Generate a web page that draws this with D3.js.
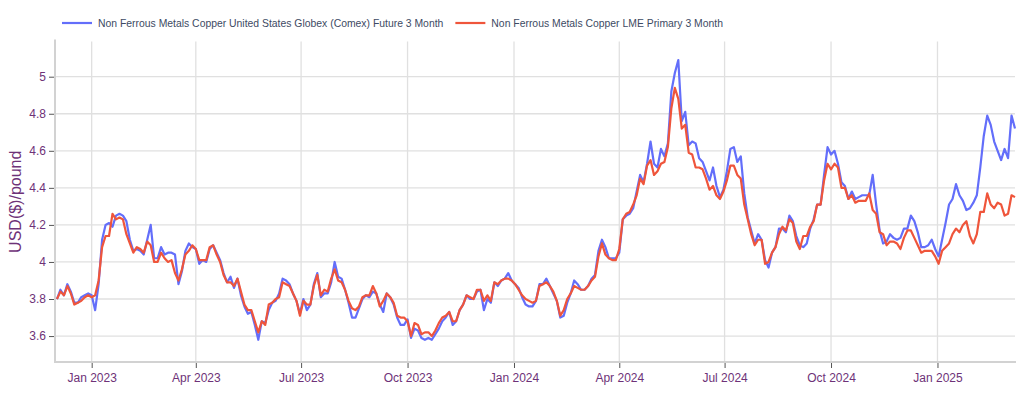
<!DOCTYPE html>
<html>
<head>
<meta charset="utf-8">
<script src="https://cdn.jsdelivr.net/npm/d3@7"></script>
<style>
  body { margin: 0; background: #fff; }
  svg { display: block; font-family: "Liberation Sans", Arial, Helvetica, sans-serif; }
</style>
</head>
<body>
<svg id="chart" width="1024" height="400"></svg>
<script>
// ---------------- DATA ----------------
const seriesNames = [
  "Non Ferrous Metals Copper United States Globex (Comex) Future 3 Month",
  "Non Ferrous Metals Copper LME Primary 3 Month"
];
const startDate = "2022-12-02";   // first observation
const stepDays = 3;               // observation spacing (days)

const comex = [
  3.80,3.85,3.82,3.88,3.84,3.78,3.78,3.81,3.82,3.83,3.82,3.74,3.88,4.12,4.20,4.21,4.19,4.25,4.26,4.25,
  4.22,4.12,4.06,4.07,4.06,4.04,4.12,4.20,4.02,4.02,4.08,4.04,4.05,4.05,4.04,3.88,3.95,4.06,4.10,4.08,
  4.07,3.99,4.01,4.00,4.07,4.09,4.05,4.01,3.94,3.89,3.92,3.86,3.91,3.82,3.76,3.72,3.73,3.66,3.58,3.68,
  3.67,3.74,3.78,3.79,3.83,3.91,3.90,3.88,3.83,3.79,3.72,3.80,3.74,3.77,3.88,3.94,3.81,3.83,3.83,3.89,
  4.00,3.92,3.91,3.85,3.78,3.70,3.70,3.75,3.80,3.82,3.81,3.84,3.83,3.77,3.73,3.83,3.81,3.77,3.70,3.66,
  3.66,3.69,3.59,3.64,3.63,3.59,3.58,3.59,3.58,3.61,3.64,3.68,3.70,3.73,3.66,3.68,3.74,3.77,3.82,3.80,
  3.80,3.84,3.85,3.74,3.80,3.78,3.89,3.87,3.90,3.91,3.94,3.90,3.88,3.86,3.81,3.77,3.76,3.76,3.79,3.88,
  3.88,3.91,3.87,3.83,3.79,3.70,3.71,3.78,3.83,3.90,3.88,3.85,3.85,3.87,3.91,3.93,4.06,4.12,4.08,4.02,
  4.02,4.02,4.05,4.23,4.25,4.26,4.29,4.38,4.47,4.43,4.53,4.65,4.53,4.51,4.61,4.57,4.64,4.92,5.02,5.09,
  4.76,4.81,4.63,4.65,4.64,4.56,4.54,4.49,4.44,4.51,4.41,4.35,4.39,4.49,4.61,4.62,4.54,4.57,4.37,4.24,
  4.17,4.10,4.15,4.12,4.01,3.97,4.05,4.08,4.18,4.18,4.16,4.25,4.22,4.14,4.09,4.08,4.10,4.18,4.23,4.31,
  4.31,4.47,4.62,4.58,4.60,4.53,4.43,4.41,4.34,4.38,4.34,4.35,4.36,4.36,4.36,4.47,4.31,4.17,4.10,4.11,
  4.15,4.13,4.12,4.13,4.18,4.18,4.25,4.22,4.16,4.08,4.08,4.09,4.12,4.07,4.03,4.12,4.21,4.31,4.34,4.42,
  4.36,4.33,4.28,4.29,4.32,4.36,4.51,4.68,4.79,4.74,4.65,4.60,4.55,4.61,4.56,4.79,4.72
];

const lme = [
  3.80,3.84,3.82,3.87,3.83,3.77,3.78,3.79,3.81,3.82,3.81,3.82,3.90,4.08,4.14,4.14,4.26,4.23,4.24,4.23,
  4.15,4.10,4.05,4.08,4.07,4.05,4.11,4.09,4.00,4.00,4.05,4.02,4.00,4.01,3.94,3.90,3.96,4.04,4.06,4.09,
  4.07,4.01,4.01,4.01,4.08,4.09,4.04,4.00,3.93,3.89,3.89,3.87,3.91,3.84,3.77,3.74,3.74,3.68,3.62,3.68,
  3.66,3.77,3.78,3.80,3.81,3.89,3.88,3.87,3.83,3.79,3.71,3.79,3.77,3.77,3.87,3.93,3.82,3.85,3.84,3.91,
  3.96,3.90,3.89,3.85,3.79,3.75,3.74,3.76,3.81,3.82,3.82,3.87,3.83,3.76,3.79,3.83,3.81,3.78,3.71,3.70,
  3.70,3.68,3.60,3.67,3.66,3.61,3.62,3.62,3.60,3.63,3.67,3.70,3.71,3.73,3.68,3.68,3.74,3.77,3.82,3.81,
  3.80,3.85,3.85,3.79,3.82,3.79,3.89,3.88,3.90,3.91,3.91,3.90,3.88,3.85,3.82,3.80,3.79,3.78,3.79,3.87,
  3.88,3.89,3.87,3.84,3.79,3.71,3.74,3.80,3.83,3.87,3.86,3.85,3.85,3.87,3.90,3.92,4.03,4.10,4.04,4.02,
  4.01,4.01,4.07,4.23,4.26,4.27,4.31,4.36,4.45,4.42,4.52,4.55,4.47,4.49,4.53,4.54,4.62,4.83,4.94,4.88,
  4.72,4.74,4.59,4.58,4.51,4.51,4.50,4.45,4.39,4.41,4.36,4.34,4.38,4.44,4.52,4.52,4.47,4.45,4.31,4.23,
  4.15,4.09,4.12,4.12,3.99,4.00,4.05,4.08,4.15,4.19,4.17,4.23,4.21,4.11,4.07,4.14,4.14,4.19,4.22,4.31,
  4.31,4.44,4.53,4.50,4.53,4.51,4.40,4.40,4.34,4.36,4.32,4.33,4.33,4.33,4.37,4.28,4.26,4.16,4.15,4.09,
  4.11,4.11,4.10,4.07,4.13,4.17,4.17,4.13,4.09,4.05,4.06,4.06,4.06,4.03,3.99,4.06,4.08,4.10,4.15,4.18,
  4.16,4.20,4.22,4.14,4.10,4.15,4.27,4.27,4.37,4.31,4.29,4.32,4.31,4.25,4.26,4.36,4.35
];

const yTicks = [3.6, 3.8, 4, 4.2, 4.4, 4.6, 4.8, 5];
const xTickDates = ["2023-01-01","2023-04-01","2023-07-01","2023-10-01","2024-01-01","2024-04-01","2024-07-01","2024-10-01","2025-01-01"];
const xTickLabels = ["Jan 2023","Apr 2023","Jul 2023","Oct 2023","Jan 2024","Apr 2024","Jul 2024","Oct 2024","Jan 2025"];
const yTitle = "USD($)/pound";
const colors = ["#636efa", "#ef553b"];

// ---------------- LAYOUT ----------------
const W = 1024, H = 400;
const plot = { left: 55, right: 1015, top: 41.5, bottom: 362 };
const xRange = [new Date(Date.UTC(2022, 10, 30, 7, 12)), new Date(Date.UTC(2025, 2, 9))];
const yDomain = [3.46, 5.19];

const parse = d3.utcParse("%Y-%m-%d");
const t0 = parse(startDate);
const dates = comex.map((_, i) => d3.utcDay.offset(t0, i * stepDays));

const x = d3.scaleUtc().domain(xRange).range([plot.left, plot.right]);
const y = d3.scaleLinear().domain(yDomain).range([plot.bottom, plot.top]);

const svg = d3.select("#chart");
const labelColor = "#6e3278";
const gridColor = "#e0e0e0";
const font = '"Liberation Sans", Arial, sans-serif';

// gridlines
const grid = svg.append("g");
grid.selectAll("line.h").data(yTicks).join("line")
  .attr("x1", plot.left).attr("x2", plot.right)
  .attr("y1", d => y(d)).attr("y2", d => y(d))
  .attr("stroke", gridColor).attr("stroke-width", 1.3);
const xTicks = xTickDates.map(parse);
grid.selectAll("line.v").data(xTicks).join("line")
  .attr("x1", d => x(d)).attr("x2", d => x(d))
  .attr("y1", plot.top).attr("y2", plot.bottom)
  .attr("stroke", gridColor).attr("stroke-width", 1.3);

// axes
const yAxis = d3.axisLeft(y).tickValues(yTicks).tickSize(6).tickPadding(3)
  .tickFormat(d => String(+d.toFixed(1)));
const gy = svg.append("g").attr("transform", `translate(${plot.left},0)`).call(yAxis);
gy.select(".domain").remove();
gy.selectAll(".tick line").attr("stroke", "#555");
gy.selectAll(".tick text").attr("fill", labelColor).style("font-size", "12px")
  .style("font-family", font);

const xAxis = d3.axisBottom(x).tickValues(xTicks).tickSize(6).tickPadding(5)
  .tickFormat((d, i) => xTickLabels[i]);
const gx = svg.append("g").attr("transform", `translate(0,${plot.bottom})`).call(xAxis);
gx.select(".domain").remove();
gx.selectAll(".tick line").attr("stroke", "#555");
gx.selectAll(".tick text").attr("fill", labelColor).style("font-size", "12px")
  .style("font-family", font);

// axis lines
svg.append("line").attr("x1", plot.left).attr("x2", plot.left)
  .attr("y1", plot.top - 2).attr("y2", plot.bottom + 1)
  .attr("stroke", "#d2d2d2").attr("stroke-width", 2);
svg.append("line").attr("x1", plot.left - 1).attr("x2", plot.right + 1)
  .attr("y1", plot.bottom).attr("y2", plot.bottom)
  .attr("stroke", "#d2d2d2").attr("stroke-width", 2);

// y title
svg.append("text")
  .attr("transform", `translate(15,${(plot.top + plot.bottom) / 2}) rotate(-90)`)
  .attr("text-anchor", "middle").attr("dy", "0.35em")
  .attr("fill", labelColor).style("font-size", "16px").style("font-family", font)
  .text(yTitle);

// lines
const line = d3.line().x((d, i) => x(dates[i])).y(d => y(d));
[comex, lme].forEach((s, i) => {
  svg.append("path").datum(s)
    .attr("d", line)
    .attr("fill", "none")
    .attr("stroke", colors[i])
    .attr("stroke-width", 2.2)
    .attr("stroke-linejoin", "round");
});

// legend
const legendY = 23;
let lx = 62;
seriesNames.forEach((name, i) => {
  const g = svg.append("g");
  g.append("line").attr("x1", lx).attr("x2", lx + 30)
    .attr("y1", legendY).attr("y2", legendY)
    .attr("stroke", colors[i]).attr("stroke-width", 2.2);
  const t = g.append("text").attr("x", lx + 36).attr("y", legendY).attr("dy", "0.35em")
    .attr("fill", "#3d4a63").style("font-size", "10.4px").style("font-family", font)
    .text(name);
  lx = lx + 36 + t.node().getComputedTextLength() + 12;
});
</script>
</body>
</html>
